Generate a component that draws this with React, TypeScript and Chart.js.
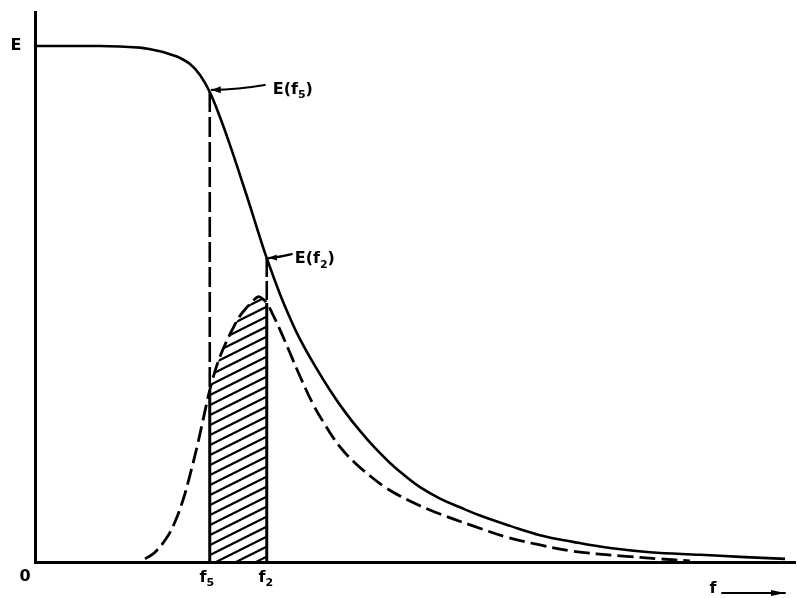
import React, { useEffect, useRef } from "react";
import { Chart, registerables } from "chart.js";

Chart.register(...registerables);

// ---- data (f in arbitrary units, E normalised so that E = 1 on the plateau) ----
const F_MAX = 101.33;
const E_MAX = 1.066;
const F5 = 23.3;
const F2 = 30.9;
const F_ARROW = 90.4;

// solid curve E(f)
const solidF = [0, 8.67, 11.33, 14, 15.33, 16.67, 18, 19.33, 20.67, 22, 23.3, 24.67, 26, 27.33, 28.67, 29.73, 30.9, 32.67, 34, 35.33, 37.33, 39.33, 41.33, 43.33, 45.33, 47.33, 49.33, 51.33, 54, 56.67, 59.33, 63.33, 67.33, 71.73, 76.67, 82, 88.67, 94, 100];
const solidE = [1.0, 1.0, 0.999, 0.997, 0.994, 0.99, 0.984, 0.977, 0.965, 0.944, 0.911, 0.862, 0.808, 0.75, 0.69, 0.641, 0.589, 0.519, 0.473, 0.432, 0.38, 0.333, 0.291, 0.254, 0.221, 0.192, 0.167, 0.145, 0.123, 0.106, 0.09, 0.07, 0.052, 0.039, 0.027, 0.019, 0.014, 0.01, 0.006];

// dashed curve
const dashF = [14.67, 16, 17.6, 18.67, 19.73, 20.67, 21.6, 22.4, 23.3, 24.27, 25.33, 26.4, 27.33, 28.27, 29.07, 29.73, 30.27, 30.9, 31.6, 32.67, 34, 35.33, 37.07, 38.67, 40.67, 42.67, 44.67, 46.67, 48.67, 51.33, 54, 58.4, 62.93, 67.33, 71.73, 78, 83.33, 87.33];
const dashE = [0.006, 0.019, 0.048, 0.078, 0.12, 0.169, 0.223, 0.275, 0.333, 0.382, 0.421, 0.453, 0.477, 0.494, 0.506, 0.514, 0.511, 0.502, 0.483, 0.45, 0.405, 0.36, 0.306, 0.266, 0.223, 0.192, 0.167, 0.145, 0.128, 0.109, 0.093, 0.07, 0.048, 0.033, 0.021, 0.012, 0.006, 0.002];

const FONT = '"DejaVu Sans", "Liberation Sans", sans-serif';

function valueAt(fs: number[], es: number[], f: number): number {
  const i = fs.findIndex((v) => Math.abs(v - f) < 1e-9);
  return es[i];
}

type Part = { t: string; sub?: boolean };

function drawParts(ctx: CanvasRenderingContext2D, parts: Part[], x: number, y: number, size: number, align: "left" | "center") {
  const big = `bold ${size}px ${FONT}`;
  const small = `bold ${Math.round(size * 0.7)}px ${FONT}`;
  let w = 0;
  for (const p of parts) {
    ctx.font = p.sub ? small : big;
    w += ctx.measureText(p.t).width;
  }
  let cx = align === "center" ? x - w / 2 : x;
  ctx.textAlign = "left";
  ctx.textBaseline = "alphabetic";
  for (const p of parts) {
    ctx.font = p.sub ? small : big;
    ctx.fillText(p.t, cx, p.sub ? y + size * 0.28 : y);
    cx += ctx.measureText(p.t).width;
  }
}

function arrow(ctx: CanvasRenderingContext2D, x0: number, y0: number, x1: number, y1: number, bend: number, head: number, half: number) {
  const mx = (x0 + x1) / 2;
  const my = (y0 + y1) / 2 + bend;
  ctx.beginPath();
  ctx.moveTo(x0, y0);
  ctx.quadraticCurveTo(mx, my, x1, y1);
  ctx.stroke();
  const ang = Math.atan2(y1 - my, x1 - mx);
  ctx.beginPath();
  ctx.moveTo(x1, y1);
  ctx.lineTo(x1 - head * Math.cos(ang) + half * Math.sin(ang), y1 - head * Math.sin(ang) - half * Math.cos(ang));
  ctx.lineTo(x1 - head * Math.cos(ang) - half * Math.sin(ang), y1 - head * Math.sin(ang) + half * Math.cos(ang));
  ctx.closePath();
  ctx.fill();
}

function makeHatch(): CanvasPattern | string {
  const c = document.createElement("canvas");
  c.width = 20;
  c.height = 10;
  const g = c.getContext("2d");
  if (!g) return "#000";
  g.strokeStyle = "#000";
  g.lineWidth = 2.2;
  for (let k = -1; k <= 1; k++) {
    g.beginPath();
    g.moveTo(-4, 12 + k * 10);
    g.lineTo(24, -2 + k * 10);
    g.stroke();
  }
  return g.createPattern(c, "repeat") || "#000";
}

const labelPlugin = {
  id: "labels",
  afterDraw(chart: any) {
    const ctx: CanvasRenderingContext2D = chart.ctx;
    const xs = chart.scales.x;
    const ys = chart.scales.y;
    const area = chart.chartArea;
    ctx.save();
    ctx.fillStyle = "#000";
    ctx.strokeStyle = "#000";
    ctx.lineCap = "round";

    // axis letters
    drawParts(ctx, [{ t: "E" }], area.left - 19, ys.getPixelForValue(1) + 4, 16, "center");
    drawParts(ctx, [{ t: "0" }], area.left - 10, area.bottom + 19, 16, "center");
    drawParts(ctx, [{ t: "f" }, { t: "5", sub: true }], xs.getPixelForValue(F5) - 3, area.bottom + 20, 16, "center");
    drawParts(ctx, [{ t: "f" }, { t: "2", sub: true }], xs.getPixelForValue(F2) - 1, area.bottom + 20, 16, "center");

    // f -->
    const fx = xs.getPixelForValue(F_ARROW);
    drawParts(ctx, [{ t: "f" }], fx, area.bottom + 31, 16, "center");
    ctx.lineWidth = 2;
    arrow(ctx, fx + 9, area.bottom + 31, area.right - 10, area.bottom + 31, 0, 14, 3);

    // E(f5) annotation
    const p5x = xs.getPixelForValue(F5);
    const p5y = ys.getPixelForValue(valueAt(solidF, solidE, F5));
    ctx.lineWidth = 2.2;
    arrow(ctx, p5x + 55, p5y - 7, p5x + 2, p5y - 2, 2, 9, 3.5);
    drawParts(ctx, [{ t: "E(f" }, { t: "5", sub: true }, { t: ")" }], p5x + 63, p5y + 2, 16, "left");

    // E(f2) annotation
    const p2x = xs.getPixelForValue(F2);
    const p2y = ys.getPixelForValue(valueAt(solidF, solidE, F2));
    arrow(ctx, p2x + 25, p2y - 4, p2x + 2, p2y, 1, 8, 3);
    drawParts(ctx, [{ t: "E(f" }, { t: "2", sub: true }, { t: ")" }], p2x + 28, p2y + 5, 16, "left");

    ctx.restore();
  },
};

export default function App() {
  const ref = useRef<HTMLCanvasElement>(null);

  useEffect(() => {
    document.body.style.margin = "0";
    const canvas = ref.current;
    if (!canvas) return;

    const solid = solidF.map((f, i) => ({ x: f, y: solidE[i] }));
    const dashed = dashF.map((f, i) => ({ x: f, y: dashE[i] }));
    const hatch = dashed.filter((p) => p.x >= F5 - 1e-9 && p.x <= F2 + 1e-9);
    const e5 = valueAt(solidF, solidE, F5);
    const d5 = valueAt(dashF, dashE, F5);
    const e2 = valueAt(solidF, solidE, F2);
    const d2 = valueAt(dashF, dashE, F2);

    const straight = { tension: 0, cubicInterpolationMode: "default" as const };
    const smooth = { tension: 0.4, cubicInterpolationMode: "default" as const };

    const chart = new Chart(canvas, {
      type: "line",
      data: {
        datasets: [
          {
            data: hatch,
            borderWidth: 0,
            borderColor: "rgba(0,0,0,0)",
            backgroundColor: makeHatch() as any,
            fill: "origin",
            ...smooth,
            order: 10,
          },
          {
            data: solid,
            borderColor: "#000",
            borderWidth: 2.6,
            fill: false,
            ...smooth,
            order: 1,
          },
          {
            data: dashed,
            borderColor: "#000",
            borderWidth: 2.8,
            borderDash: [16, 6],
            fill: false,
            ...smooth,
            order: 2,
          },
          {
            data: [{ x: F5, y: e5 }, { x: F5, y: d5 }],
            borderColor: "#000",
            borderWidth: 2.6,
            borderDash: [20, 5],
            fill: false,
            ...straight,
            order: 3,
          },
          {
            data: [{ x: F5, y: d5 }, { x: F5, y: 0 }],
            borderColor: "#000",
            borderWidth: 3,
            fill: false,
            ...straight,
            order: 3,
          },
          {
            data: [{ x: F2, y: e2 }, { x: F2, y: d2 }],
            borderColor: "#000",
            borderWidth: 2.6,
            borderDash: [19, 4],
            fill: false,
            ...straight,
            order: 3,
          },
          {
            data: [{ x: F2, y: d2 }, { x: F2, y: 0 }],
            borderColor: "#000",
            borderWidth: 3,
            fill: false,
            ...straight,
            order: 3,
          },
        ],
      },
      options: {
        responsive: false,
        animation: false,
        events: [],
        devicePixelRatio: 1,
        layout: { padding: { left: 35, top: 12, right: 2, bottom: 36 } },
        elements: { point: { radius: 0 } },
        datasets: { line: { clip: false } } as any,
        plugins: { legend: { display: false }, tooltip: { enabled: false }, title: { display: false } },
        scales: {
          x: {
            type: "linear",
            min: 0,
            max: F_MAX,
            grid: { display: false },
            ticks: { display: false },
            border: { display: true, color: "#000", width: 3 },
            afterFit: (s: any) => {
              s.height = 0;
            },
          },
          y: {
            type: "linear",
            min: 0,
            max: E_MAX,
            grid: { display: false },
            ticks: { display: false },
            border: { display: true, color: "#000", width: 3 },
            afterFit: (s: any) => {
              s.width = 0;
            },
          },
        },
      },
      plugins: [labelPlugin],
    });

    return () => chart.destroy();
  }, []);

  return (
    <div style={{ width: 797, height: 598, background: "#fff" }}>
      <canvas ref={ref} width={797} height={598} style={{ display: "block" }} />
    </div>
  );
}
